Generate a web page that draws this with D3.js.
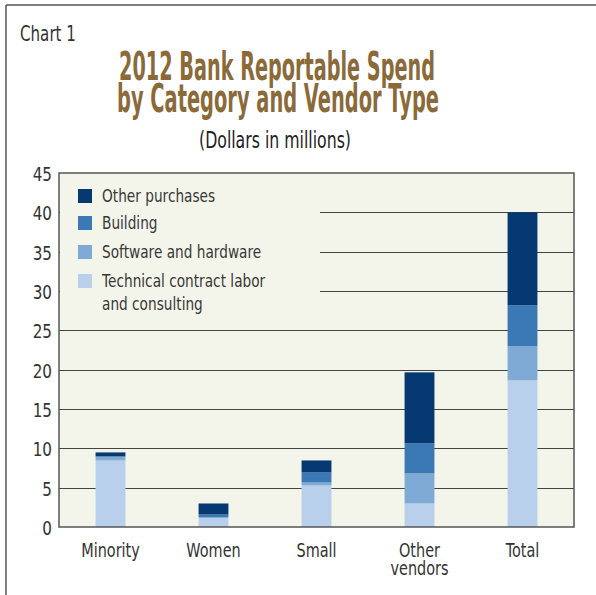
<!DOCTYPE html>
<html>
<head>
<meta charset="utf-8">
<script src="https://cdn.jsdelivr.net/npm/d3@7"></script>
<style>
  body { margin: 0; background: #fff; }
  svg { display: block; }
  text { font-family: "DejaVu Sans", sans-serif; }
</style>
</head>
<body>
<div id="chart"></div>
<script>
// categories and series (dollars in millions)
var categories = ["Minority", "Women", "Small", "Other vendors", "Total"];
var techLabor  = [8.46, 1.21, 5.28, 2.99, 18.64];
var software   = [0.51, 0.00, 0.38, 3.82, 4.33];
var building   = [0.00, 0.38, 1.27, 3.82, 5.22];
var otherPurch = [0.51, 1.40, 1.53, 9.03, 11.80];
var seriesNames = ["Technical contract labor\nand consulting", "Software and hardware", "Building", "Other purchases"];
var seriesColors = ["#b9d0ec", "#80aad6", "#3a79b5", "#063872"];
var yTicks = [0, 5, 10, 15, 20, 25, 30, 35, 40, 45];

var W = 596, H = 595;
var plotL = 59, plotR = 574, plotT = 173, plotB = 527;
var narrow = 0.76; // squeeze the text to look like the condensed face

var svg = d3.select("#chart").append("svg")
    .attr("width", W).attr("height", H);

// place a text squeezed horizontally
function squeezed(parent, px, py, sx) {
  return parent.append("text")
    .attr("transform", "translate(" + px + "," + py + ") scale(" + sx + ",1)");
}

// frame lines
svg.append("line").attr("x1", 6).attr("x2", W).attr("y1", 5).attr("y2", 5)
    .attr("stroke", "#555").attr("stroke-width", 1.5);
svg.append("line").attr("x1", 6).attr("x2", 6).attr("y1", 5).attr("y2", H)
    .attr("stroke", "#555").attr("stroke-width", 1.5);

// titles
squeezed(svg, 20, 41, 0.72)
    .attr("font-size", 21).attr("fill", "#333").text("Chart 1");
var title = svg.append("g").attr("fill", "#8b6a3a").attr("font-weight", "bold")
    .attr("font-size", 39).attr("text-anchor", "middle");
title.append("text").attr("x", 277).attr("y", 80).attr("textLength", 316)
    .attr("lengthAdjust", "spacingAndGlyphs").text("2012 Bank Reportable Spend");
title.append("text").attr("x", 278).attr("y", 112).attr("textLength", 322)
    .attr("lengthAdjust", "spacingAndGlyphs").text("by Category and Vendor Type");
svg.append("text").attr("x", 275).attr("y", 148).attr("text-anchor", "middle")
    .attr("font-size", 23).attr("fill", "#222")
    .attr("textLength", 152).attr("lengthAdjust", "spacingAndGlyphs")
    .text("(Dollars in millions)");

// scales
var x = d3.scaleBand().domain(categories).range([plotL, plotR])
    .paddingInner(0.71).paddingOuter(0.355);
var y = d3.scaleLinear().domain([0, 45]).range([plotB, plotT]);

// plot background
svg.append("rect").attr("x", plotL).attr("y", plotT)
    .attr("width", plotR - plotL).attr("height", plotB - plotT)
    .attr("fill", "#f4f5ea");

// gridlines
svg.append("g").selectAll("line")
  .data(yTicks.filter(function(d) { return d > 0 && d < 45; })).enter()
    .append("line")
    .attr("x1", plotL).attr("x2", plotR)
    .attr("y1", function(d) { return Math.round(y(d)) + 0.5; })
    .attr("y2", function(d) { return Math.round(y(d)) + 0.5; })
    .attr("stroke", "#444").attr("stroke-width", 1.2);

// stacked bars
var table = categories.map(function(c, i) {
  return { cat: c, s0: techLabor[i], s1: software[i], s2: building[i], s3: otherPurch[i] };
});
var stack = d3.stack().keys(["s0", "s1", "s2", "s3"])(table);

svg.append("g").selectAll("g")
  .data(stack).enter()
    .append("g")
    .attr("fill", function(d, i) { return seriesColors[i]; })
  .selectAll("rect")
  .data(function(d) { return d; }).enter()
    .append("rect")
    .attr("x", function(d) { return x(d.data.cat); })
    .attr("width", x.bandwidth())
    .attr("y", function(d) { return y(d[1]); })
    .attr("height", function(d) { return y(d[0]) - y(d[1]); });

// legend box (covers the gridlines behind it)
svg.append("rect").attr("x", plotL + 1).attr("y", plotT + 1)
    .attr("width", 260).attr("height", 137).attr("fill", "#f4f5ea");

var legendRows = [3, 2, 1, 0];
var legendY = [196, 223, 252, 281];
var legend = svg.append("g");
legendRows.forEach(function(s, i) {
  legend.append("rect").attr("x", 78).attr("y", legendY[i] - 7)
      .attr("width", 14).attr("height", 14).attr("fill", seriesColors[s]);
  squeezed(legend, 102, legendY[i] + 6, 0.74)
      .attr("font-size", 18.5).attr("fill", "#383838")
      .selectAll("tspan")
      .data(seriesNames[s].split("\n")).enter()
        .append("tspan")
        .attr("x", 0)
        .attr("y", function(d, j) { return j * 23; })
        .text(function(d) { return d; });
});

// plot border
svg.append("rect").attr("x", plotL).attr("y", plotT)
    .attr("width", plotR - plotL).attr("height", plotB - plotT)
    .attr("fill", "none").attr("stroke", "#555").attr("stroke-width", 1.5);

// y axis labels
var yLab = svg.append("g");
yTicks.forEach(function(t) {
  squeezed(yLab, 52, y(t) + 8, 0.8)
      .attr("text-anchor", "end").attr("font-size", 19).attr("fill", "#333")
      .text(t);
});

// x axis labels
var xLab = svg.append("g");
categories.forEach(function(c) {
  squeezed(xLab, x(c) + x.bandwidth() / 2, 557, narrow)
      .attr("text-anchor", "middle").attr("font-size", 19).attr("fill", "#333")
      .selectAll("tspan")
      .data(c === "Other vendors" ? ["Other", "vendors"] : [c]).enter()
        .append("tspan")
        .attr("x", 0)
        .attr("y", function(d, j) { return j * 18; })
        .text(function(d) { return d; });
});
</script>
</body>
</html>
